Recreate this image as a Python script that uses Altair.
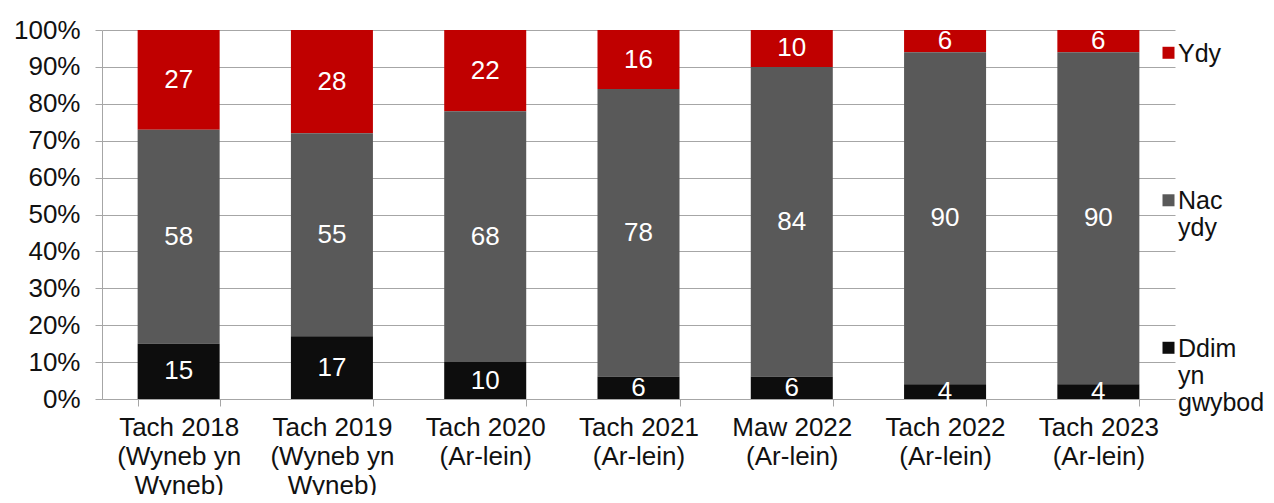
import altair as alt
import pandas as pd

categories = [
    "Tach 2018\n(Wyneb yn\nWyneb)",
    "Tach 2019\n(Wyneb yn\nWyneb)",
    "Tach 2020\n(Ar-lein)",
    "Tach 2021\n(Ar-lein)",
    "Maw 2022\n(Ar-lein)",
    "Tach 2022\n(Ar-lein)",
    "Tach 2023\n(Ar-lein)",
]
ydy = [27, 28, 22, 16, 10, 6, 6]
nac_ydy = [58, 55, 68, 78, 84, 90, 90]
ddim = [15, 17, 10, 6, 6, 4, 4]

series = ["Ydy", "Nac ydy", "Ddim yn gwybod"]
stack_order = [2, 1, 0]
colors = ["#C00000", "#595959", "#0D0D0D"]
y_ticks = [0, 10, 20, 30, 40, 50, 60, 70, 80, 90, 100]

rows = []
for vals, name, o in zip([ydy, nac_ydy, ddim], series, stack_order):
    for c, v in zip(categories, vals):
        rows.append({"cat": c, "series": name, "value": v, "ord": o})
df = pd.DataFrame(rows)

FONT = "Liberation Sans"
GRID = "#A6A6A6"
FS = 26

base = alt.Chart(df).transform_stack(
    stack="value", groupby=["cat"], as_=["y0", "y1"], sort=[alt.SortField("ord", order="ascending")]
).transform_calculate(mid="(datum.y0 + datum.y1) / 2")

x_axis = alt.Axis(
    labelAngle=0,
    labelExpr="split(datum.label, '\\n')",
    labelFont=FONT,
    labelFontSize=FS,
    labelLineHeight=29,
    labelColor="#111111",
    labelPadding=8,
    tickBand="extent",
    tickSize=7,
    tickColor=GRID,
    domainColor=GRID,
    grid=False,
    labelLimit=300,
)
y_axis = alt.Axis(
    values=y_ticks,
    labelExpr="datum.value + '%'",
    labelFont=FONT,
    labelFontSize=FS,
    labelColor="#111111",
    labelPadding=15,
    labelOverlap=False,
    tickSize=7,
    tickColor=GRID,
    domainColor=GRID,
    gridColor=GRID,
    gridOpacity=1,
)
x_scale = alt.Scale(paddingInner=0.465, paddingOuter=0.2325)
y_scale = alt.Scale(domain=[0, 100], nice=False)

bars = base.mark_bar().encode(
    x=alt.X("cat:N", sort=categories, title=None, scale=x_scale, axis=x_axis),
    y=alt.Y("y0:Q", title=None, scale=y_scale, axis=y_axis),
    y2="y1:Q",
    color=alt.Color(
        "series:N",
        scale=alt.Scale(domain=series, range=colors),
        legend=alt.Legend(
            title=None,
            orient="none",
            legendX=1051,
            legendY=-1,
            symbolType="M-0.5,0.88H1.5V2.88H-0.5Z",
            symbolSize=144,
            symbolStrokeWidth=0,
            labelFont=FONT,
            labelFontSize=25,
            labelColor="#111111",
            labelBaseline="top",
            labelExpr="slice(split(datum.label + '  ', ' '), 0, 3)",
            rowPadding=55.5,
            padding=0,
            labelOffset=0,
        ),
    ),
)

labels = base.mark_text(font=FONT, fontSize=FS, color="white", baseline="middle").encode(
    x=alt.X("cat:N", sort=categories, title=None, scale=x_scale, axis=x_axis),
    y=alt.Y("mid:Q", title=None, scale=y_scale, axis=y_axis),
    text="value:Q",
)

chart = (
    alt.layer(bars, labels)
    .properties(
        width=1073,
        height=369,
        padding={"left": 94, "top": 22, "right": 91, "bottom": 96},
        autosize=alt.AutoSizeParams(type="none"),
    )
    .configure_view(stroke=None)
)

chart.save("out.html", embed_options={"renderer": "svg", "actions": False})
